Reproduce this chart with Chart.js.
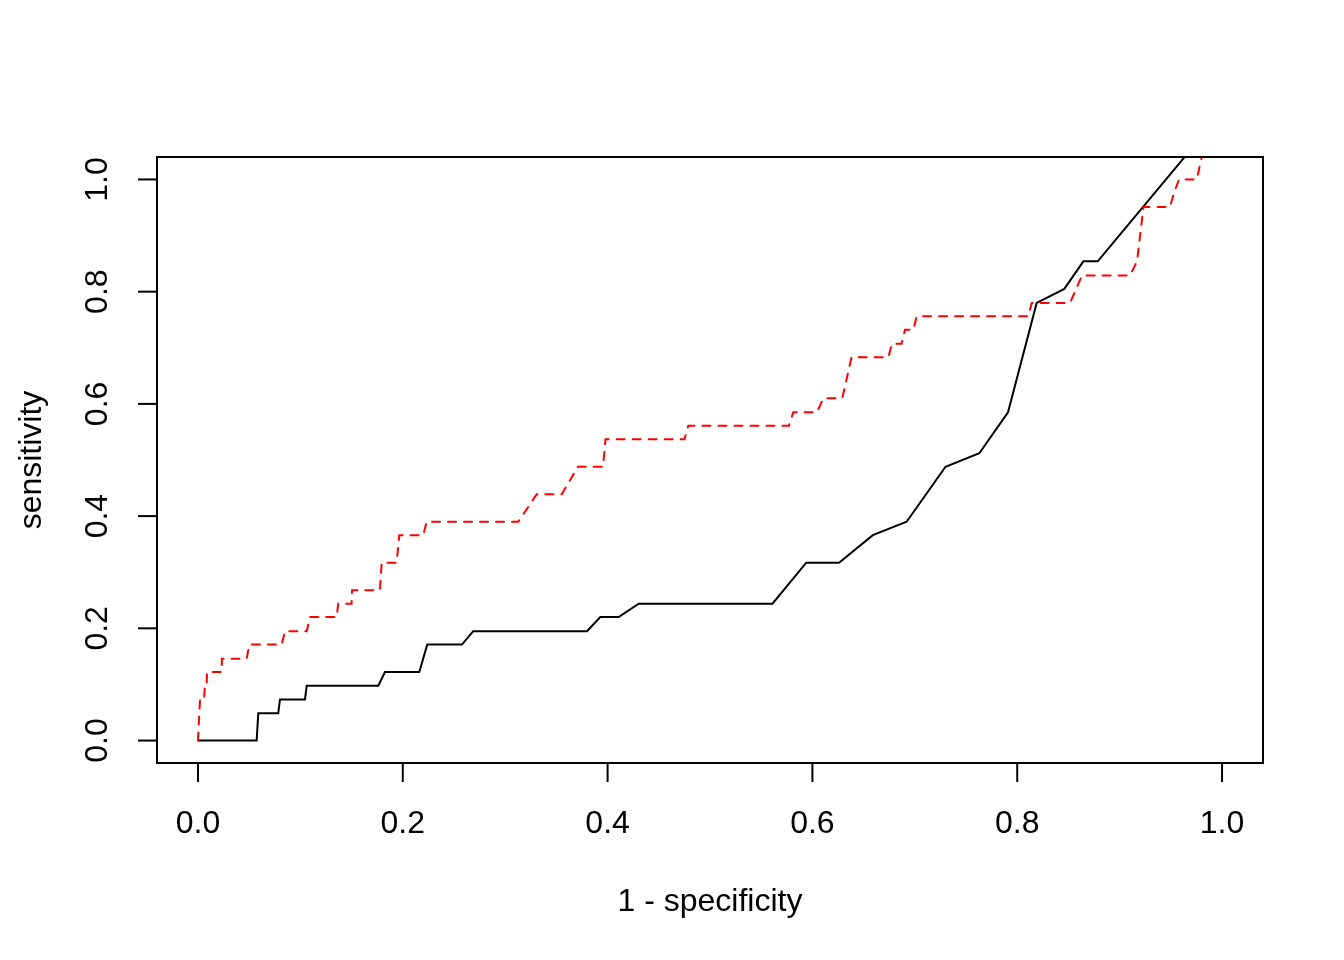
<!DOCTYPE html>
<html lang="en">
<head>
    <meta charset="UTF-8">
    <title>ROC curves</title>
    <script src="https://cdn.jsdelivr.net/npm/chart.js"></script>
    <style>
        html, body { margin: 0; padding: 0; background: #fff; }
        canvas { display: block; }
    </style>
</head>
<body>
    <canvas id="rocChart" width="1344" height="960"></canvas>

    <script>
        // solid black curve (1 - specificity, sensitivity)
        const blackFpr = [0, 0.0573, 0.0589, 0.0784, 0.0801, 0.1045, 0.1062, 0.1761, 0.1826, 0.2161, 0.2239, 0.2578, 0.2688, 0.3799, 0.3929, 0.4108, 0.4304, 0.561, 0.594, 0.626, 0.659, 0.692, 0.73, 0.763, 0.791, 0.819, 0.846, 0.8646, 0.8786, 1.0];
        const blackTpr = [0, 0, 0.0488, 0.0488, 0.0732, 0.0732, 0.0976, 0.0976, 0.122, 0.122, 0.171, 0.171, 0.195, 0.195, 0.22, 0.22, 0.244, 0.244, 0.317, 0.317, 0.366, 0.39, 0.488, 0.512, 0.585, 0.78, 0.805, 0.854, 0.854, 1.12];

        // dashed red curve
        const redFpr = [0, 0.002, 0.0059, 0.0068, 0.0085, 0.0088, 0.0231, 0.0234, 0.0476, 0.0501, 0.0817, 0.085, 0.1062, 0.1094, 0.1354, 0.137, 0.150, 0.1505, 0.1777, 0.1794, 0.194, 0.1966, 0.22, 0.2233, 0.3128, 0.3308, 0.3552, 0.3711, 0.3955, 0.398, 0.4751, 0.4788, 0.5771, 0.5813, 0.6045, 0.6106, 0.6292, 0.6382, 0.6741, 0.6777, 0.687, 0.6904, 0.6985, 0.7019, 0.8108, 0.8142, 0.8516, 0.8633, 0.9102, 0.917, 0.9233, 0.9492, 0.9531, 0.958, 0.9753, 0.99];
        const redTpr = [0, 0.073, 0.073, 0.0976, 0.0976, 0.122, 0.122, 0.146, 0.146, 0.171, 0.171, 0.195, 0.195, 0.22, 0.22, 0.244, 0.244, 0.268, 0.268, 0.317, 0.317, 0.366, 0.366, 0.39, 0.39, 0.439, 0.439, 0.488, 0.488, 0.537, 0.537, 0.561, 0.561, 0.585, 0.585, 0.61, 0.61, 0.683, 0.683, 0.707, 0.707, 0.732, 0.732, 0.756, 0.756, 0.78, 0.78, 0.829, 0.829, 0.854, 0.951, 0.951, 0.976, 1.0, 1.0, 1.12];

        const xTicks = [0, 0.2, 0.4, 0.6, 0.8, 1.0];
        const xTickLabels = ['0.0', '0.2', '0.4', '0.6', '0.8', '1.0'];
        const yTicks = [0, 0.2, 0.4, 0.6, 0.8, 1.0];
        const yTickLabels = ['0.0', '0.2', '0.4', '0.6', '0.8', '1.0'];
        const xTitle = '1 - specificity';
        const yTitle = 'sensitivity';

        const FONT = '32px "Liberation Sans", Arial, sans-serif';

        function toPoints(xs, ys) {
            return xs.map((v, i) => ({ x: v, y: ys[i] }));
        }

        // base-graphics style box, ticks and labels
        const rAxes = {
            id: 'rAxes',
            afterDraw(chart) {
                const ctx = chart.ctx;
                const a = chart.chartArea;
                const xs = chart.scales.x;
                const ys = chart.scales.y;
                ctx.save();
                ctx.strokeStyle = '#000';
                ctx.fillStyle = '#000';
                ctx.lineWidth = 2;
                ctx.strokeRect(a.left, a.top, a.right - a.left, a.bottom - a.top);

                ctx.font = FONT;
                ctx.textBaseline = 'alphabetic';
                ctx.textAlign = 'center';
                xTicks.forEach((v, i) => {
                    const px = xs.getPixelForValue(v);
                    ctx.beginPath();
                    ctx.moveTo(px, a.bottom);
                    ctx.lineTo(px, a.bottom + 19);
                    ctx.stroke();
                    ctx.fillText(xTickLabels[i], px, 833);
                });

                yTicks.forEach((v, i) => {
                    const py = ys.getPixelForValue(v);
                    ctx.beginPath();
                    ctx.moveTo(a.left, py);
                    ctx.lineTo(a.left - 19, py);
                    ctx.stroke();
                    ctx.save();
                    ctx.translate(107, py);
                    ctx.rotate(-Math.PI / 2);
                    ctx.fillText(yTickLabels[i], 0, 0);
                    ctx.restore();
                });

                ctx.fillText(xTitle, (a.left + a.right) / 2, 911);
                ctx.save();
                ctx.translate(41, (a.top + a.bottom) / 2);
                ctx.rotate(-Math.PI / 2);
                ctx.fillText(yTitle, 0, 0);
                ctx.restore();
                ctx.restore();
            }
        };

        const ctx = document.getElementById('rocChart').getContext('2d');
        new Chart(ctx, {
            type: 'scatter',
            data: {
                datasets: [
                    {
                        data: toPoints(redFpr, redTpr),
                        showLine: true,
                        borderColor: '#ff0000',
                        borderWidth: 2,
                        borderDash: [8, 8],
                        borderCapStyle: 'round',
                        pointRadius: 0,
                        tension: 0
                    },
                    {
                        data: toPoints(blackFpr, blackTpr),
                        showLine: true,
                        borderColor: '#000000',
                        borderWidth: 2,
                        pointRadius: 0,
                        tension: 0
                    }
                ]
            },
            options: {
                responsive: false,
                animation: false,
                devicePixelRatio: 1,
                layout: { padding: { left: 157, top: 157, right: 81, bottom: 197 } },
                plugins: { legend: { display: false }, tooltip: { enabled: false } },
                scales: {
                    x: { type: 'linear', min: -0.04, max: 1.04, display: false },
                    y: { type: 'linear', min: -0.04, max: 1.04, display: false }
                }
            },
            plugins: [rAxes]
        });
    </script>
</body>
</html>
